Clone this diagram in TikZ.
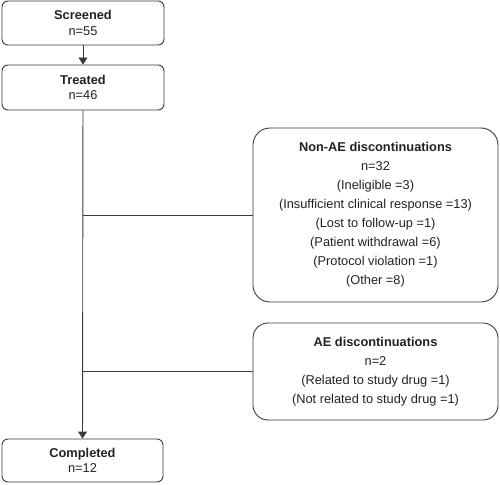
\documentclass[tikz,border=0pt]{standalone}
\usepackage{fontspec}
\setmainfont{Liberation Sans}
\usetikzlibrary{arrows.meta}
\definecolor{linegray}{HTML}{3A3A3A}
\definecolor{txt}{HTML}{222222}
\tikzset{
  smallbox/.style={draw=linegray, line width=0.9pt, rounded corners=6pt, minimum width=162pt, align=center, text=txt, inner sep=0pt,
    font=\fontsize{12.8pt}{15.5pt}\selectfont},
  bigbox/.style={draw=linegray, line width=0.9pt, rounded corners=17pt, minimum width=245pt, align=center, text=txt, inner sep=0pt,
    font=\fontsize{12.8pt}{19pt}\selectfont},
  conn/.style={draw=linegray, line width=0.9pt},
  arr/.style={conn, -{Triangle[width=9pt,length=7pt]}}
}
\begin{document}
\begin{tikzpicture}[x=1pt,y=-1pt]
\useasboundingbox (0,0) rectangle (500,484);
\node[smallbox, minimum height=44pt] (scr) at (83,23) {\textbf{Screened}\\n=55};
\node[smallbox, minimum height=45pt] (trt) at (83,87.5) {\textbf{Treated}\\n=46};
\node[smallbox, minimum height=43pt, minimum width=161pt] (cmp) at (82.5,460.5) {\textbf{Completed}\\n=12};
\node[bigbox, minimum height=174pt] (nae) at (375.5,215) {\textbf{Non-AE discontinuations}\\n=32\\(Ineligible =3)\\(Insufficient clinical response =13)\\(Lost to follow-up =1)\\(Patient withdrawal =6)\\(Protocol violation =1)\\(Other =8)};
\node[bigbox, minimum height=97pt, rounded corners=15pt] (ae) at (375.5,371.5) {\textbf{AE discontinuations}\\n=2\\(Related to study drug =1)\\(Not related to study drug =1)};
\draw[arr] (scr) -- (trt);
\draw[arr] (trt) -- (cmp);
\draw[conn] (nae.west) -- (nae.west -| trt.south);
\draw[conn] (ae.west) -- (ae.west -| trt.south);
\end{tikzpicture}
\end{document}
